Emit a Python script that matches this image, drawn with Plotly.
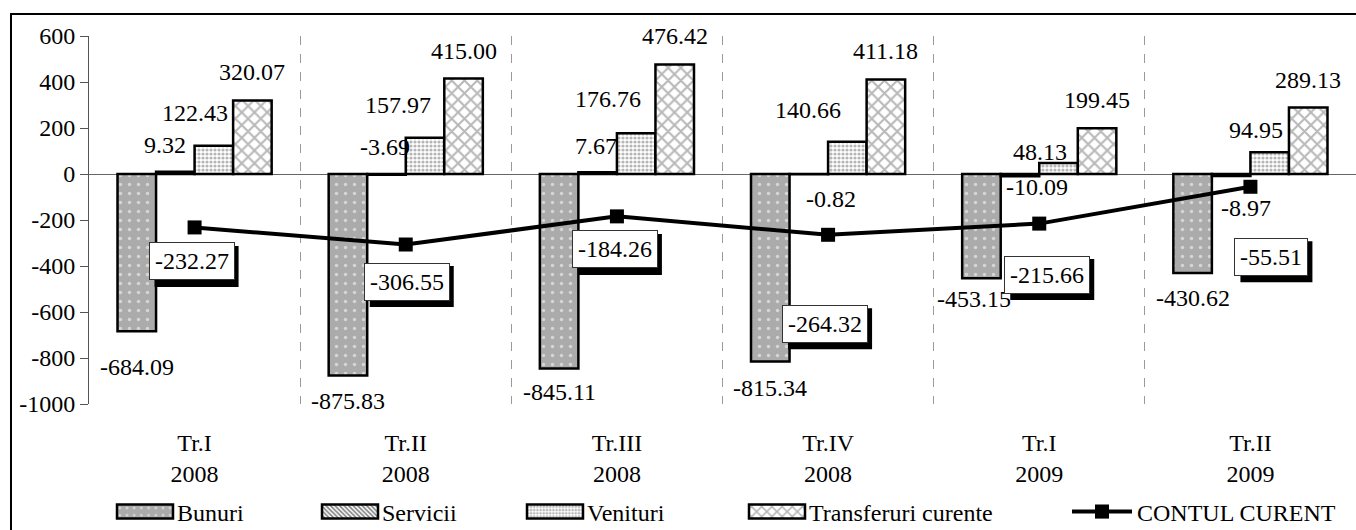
import plotly.graph_objects as go

# ---------------- data ----------------
categories = ["Tr.I<br>2008", "Tr.II<br>2008", "Tr.III<br>2008", "Tr.IV<br>2008", "Tr.I<br>2009", "Tr.II<br>2009"]
bunuri = [-684.09, -875.83, -845.11, -815.34, -453.15, -430.62]
servicii = [9.32, -3.69, 7.67, -0.82, -10.09, -8.97]
venituri = [122.43, 157.97, 176.76, 140.66, 48.13, 94.95]
transferuri = [320.07, 415.00, 476.42, 411.18, 199.45, 289.13]
contul = [-232.27, -306.55, -184.26, -264.32, -215.66, -55.51]
y_ticks = [600, 400, 200, 0, -200, -400, -600, -800, -1000]

# ---------------- style ----------------
FONT = "Liberation Serif"
FS = 24
W, H = 1356, 530
ML, MR, MT, MB = 89, 0, 36, 126
BARGAP = 0.27
BW = (1 - BARGAP) / 4
OFFS = [-1.5 * BW, -0.5 * BW, 0.5 * BW, 1.5 * BW]

# pixel offsets of labels (dx right, dy down) relative to bar end / marker
bunuri_off = [(0, 36), (0, 26), (0, 24), (0, 26), (-7, 21), (0, 25)]
servicii_off = [(-10, -27), (-1, -28), (-2, -26), (22, 25), (17, 11), (15, 32)]
venituri_off = [(-19, -33), (-27, -33), (-28, -34), (-39, -32), (-19, -11), (-14, -22)]
transfer_off = [(0, -28)] * 6
contul_off = [(-3, 34), (1, 37), (-2, 33), (-3, 89), (8, 51), (21, 70)]
SHADOW = 5
BOX_H = 41

xs = list(range(len(categories)))


def text_w(s):
    w = {"-": 0.333, ".": 0.25}
    return FS * sum(w.get(c, 0.5) for c in s)


fig = go.Figure()

series = [
    ("Bunuri", bunuri, dict(shape=".", fgcolor="white", bgcolor="#ababab", size=9, solidity=0.12), "legend"),
    ("Servicii", servicii, dict(shape="\\", fgcolor="black", bgcolor="white", size=4, solidity=0.5), "legend"),
    ("Venituri", venituri, dict(shape=".", fgcolor="#6e6e6e", bgcolor="white", size=4, solidity=0.5), "legend"),
    ("Transferuri curente", transferuri, dict(shape="x", fgcolor="#707070", bgcolor="white", size=9, solidity=0.4), "legend3"),
]
for name, vals, pat, leg in series:
    fig.add_trace(go.Bar(
        x=xs, y=vals, name=name,
        marker=dict(color=pat["bgcolor"], pattern=pat, line=dict(color="black", width=2.5)),
        legend=leg,
    ))

fig.add_trace(go.Scatter(
    x=xs, y=contul, name="CONTUL CURENT", mode="lines+markers",
    line=dict(color="black", width=4),
    marker=dict(symbol="square", size=14, color="black"),
    legend="legend2",
))

annotations = []
for (name, vals, _, _), offs, so in zip(series, [bunuri_off, servicii_off, venituri_off, transfer_off], OFFS):
    for i, (v, (dx, dy)) in enumerate(zip(vals, offs)):
        annotations.append(dict(
            x=i + so, y=v, xref="x", yref="y", text=f"{v:.2f}", showarrow=False,
            xanchor="center", yanchor="middle", xshift=dx, yshift=-dy,
            font=dict(family=FONT, size=FS, color="black"),
        ))

shapes = []
for i, (v, (dx, dy)) in enumerate(zip(contul, contul_off)):
    txt = f"{v:.2f}"
    bw = text_w(txt) + 10
    # drop shadow behind the label box
    shapes.append(dict(
        type="rect", xref="x", yref="y", xsizemode="pixel", ysizemode="pixel",
        xanchor=i, yanchor=v, layer="above",
        x0=dx + SHADOW - bw / 2, x1=dx + SHADOW + bw / 2,
        y0=-dy - SHADOW - BOX_H / 2, y1=-dy - SHADOW + BOX_H / 2,
        fillcolor="black", line=dict(width=0),
    ))
    annotations.append(dict(
        x=i, y=v, xref="x", yref="y", text=txt, showarrow=False,
        xanchor="center", yanchor="middle", xshift=dx, yshift=-dy,
        font=dict(family=FONT, size=FS, color="black"),
        bgcolor="white", bordercolor="#333333", borderwidth=1, borderpad=5,
    ))

ph = H - MT - MB
pw = W - ML - MR
# outer frame (left and top border of the chart area)
shapes.append(dict(
    type="rect", xref="paper", yref="paper", layer="below",
    x0=(11 - ML) / pw, x1=(W + 40 - ML) / pw,
    y0=-(H + 40 - MT - ph) / ph, y1=(ph + MT - 14) / ph,
    line=dict(color="black", width=2), fillcolor="rgba(0,0,0,0)",
))

LEG_Y = (MT + ph - 512) / ph
leg_common = dict(orientation="h", xanchor="left", y=LEG_Y, yanchor="middle",
                  font=dict(family=FONT, size=FS), bgcolor="rgba(0,0,0,0)")

fig.update_layout(
    width=W, height=H,
    margin=dict(l=ML, r=MR, t=MT, b=MB, pad=0, autoexpand=False),
    paper_bgcolor="white", plot_bgcolor="white",
    barmode="group", bargap=BARGAP, bargroupgap=0,
    font=dict(family=FONT, size=FS, color="black"),
    showlegend=True,
    legend=dict(x=(113 - ML) / pw, itemwidth=54, entrywidth=136, entrywidthmode="pixels",
                traceorder="normal", **leg_common),
    legend3=dict(x=(745 - ML) / pw, itemwidth=54, **leg_common),
    legend2=dict(x=(1067 - ML) / pw, itemwidth=60, **leg_common),
    annotations=annotations,
    shapes=shapes,
    xaxis=dict(
        tickmode="array", tickvals=xs, ticktext=categories, range=[-0.5, len(xs) - 0.5],
        showgrid=False, showline=False, zeroline=False, ticks="", ticklabelstandoff=22,
        tickfont=dict(family=FONT, size=FS), automargin=False,
        minor=dict(tickmode="linear", tick0=0.5, dtick=1, showgrid=True, gridcolor="#9a9a9a",
                   griddash="dash", gridwidth=1, ticks=""),
    ),
    yaxis=dict(
        range=[-1000, 600], tickmode="array", tickvals=y_ticks, ticktext=[str(t) for t in y_ticks],
        showgrid=False, showline=True, linecolor="#555555", linewidth=1,
        ticks="outside", ticklen=8, tickcolor="#555555", tickwidth=1,
        zeroline=True, zerolinecolor="#666666", zerolinewidth=1, automargin=False,
        tickfont=dict(family=FONT, size=FS),
    ),
)

post = """
document.body.style.margin = '0';
document.body.style.overflow = 'hidden';
var gd = document.getElementById('{plot_id}');
function widenSwatches() {
  gd.querySelectorAll('.legendpoints path').forEach(function (p) {
    var d = (p.getAttribute('d') || '').replace(/\\s/g, '');
    if (d.indexOf('M6,6H-6V-6H6Z') === 0) {
      p.setAttribute('d', 'M28,7H-28V-7H28Z');
    }
  });
}
widenSwatches();
if (gd.on) { gd.on('plotly_afterplot', widenSwatches); }
setTimeout(widenSwatches, 50);
setTimeout(widenSwatches, 300);
"""

fig.write_html("out.html", post_script=post, config={"displayModeBar": False})
